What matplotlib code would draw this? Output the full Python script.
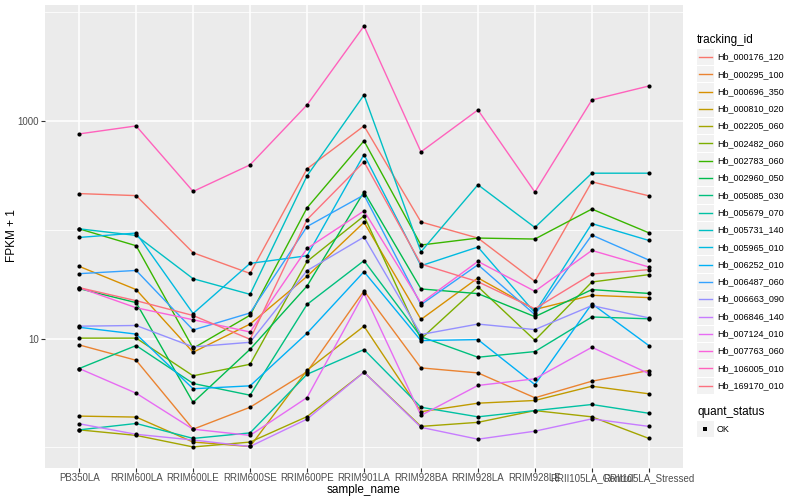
import numpy as np
import matplotlib
matplotlib.use('Agg')
import matplotlib.pyplot as plt
from matplotlib.patches import Rectangle
from matplotlib.lines import Line2D

plt.rcParams['font.family'] = ['Liberation Sans', 'DejaVu Sans']

samples = ['PB350LA', 'RRIM600LA', 'RRIM600LE', 'RRIM600SE', 'RRIM600PE',
           'RRIM901LA', 'RRIM928BA', 'RRIM928LA', 'RRIM928LE',
           'RRII105LA_Control', 'RRII105LA_Stressed']

# FPKM + 1, one list per gene, in sample order
hb_000176_120 = [215, 206, 61.5, 39.7, 363, 900, 118, 83.9, 33.6, 276, 205]
hb_000295_100 = [8.75, 6.32, 1.47, 2.34, 4.95, 27.4, 5.38, 4.84, 2.86, 4.06, 5.09]
hb_000696_350 = [46.1, 28.2, 7.49, 13.6, 37.3, 117, 15.0, 36.1, 18.5, 25.0, 23.8]
hb_000810_020 = [1.94, 1.90, 1.12, 1.02, 5.12, 13.0, 2.13, 2.55, 2.70, 3.65, 3.11]
hb_002205_060 = [1.45, 1.29, 1.01, 1.12, 1.92, 4.91, 1.56, 1.70, 2.18, 1.91, 1.21]
hb_002482_060 = [10.1, 10.1, 4.55, 5.81, 51.2, 134, 9.94, 30.0, 9.65, 33.1, 38.7]
hb_002783_060 = [102, 71.3, 8.15, 16.4, 159, 656, 72.4, 83.9, 82.2, 155, 93.8]
hb_002960_050 = [28.8, 21.4, 2.59, 7.98, 30.4, 223, 28.6, 25.9, 15.9, 28.2, 26.0]
hb_005085_030 = [5.31, 8.63, 3.87, 3.02, 20.6, 52.0, 10.4, 6.74, 7.60, 15.8, 15.2]
hb_005679_070 = [1.45, 1.66, 1.21, 1.36, 4.70, 7.93, 2.34, 1.91, 2.18, 2.48, 2.06]
hb_005731_140 = [102, 88.7, 35.5, 25.5, 313, 1733, 62.8, 259, 105, 331, 331]
hb_005965_010 = [85.0, 93.3, 17.0, 49.1, 57.7, 491, 46.7, 69.4, 17.3, 114, 79.8]
hb_006252_010 = [12.7, 11.0, 3.46, 3.68, 11.2, 41.2, 9.59, 9.79, 3.78, 20.9, 8.63]
hb_006487_060 = [39.5, 42.3, 12.0, 17.2, 107, 209, 20.5, 47.7, 16.6, 89.4, 52.7]
hb_006663_090 = [13.0, 13.2, 8.39, 9.25, 42.1, 85.7, 10.9, 13.6, 12.1, 20.1, 15.5]
hb_006846_140 = [1.65, 1.32, 1.17, 1.02, 1.82, 4.91, 1.53, 1.19, 1.41, 1.83, 1.56]
hb_007124_010 = [5.31, 3.15, 1.47, 1.29, 2.87, 26.0, 1.97, 3.71, 4.27, 8.32, 4.77]
hb_007763_060 = [29.4, 19.2, 14.9, 11.5, 67.3, 149, 21.2, 51.2, 27.2, 64.6, 45.5]
hb_106005_010 = [760, 900, 225, 395, 1403, 7447, 520, 1262, 222, 1559, 2094]
hb_169170_010 = [29.4, 22.3, 16.3, 9.86, 124, 421, 48.4, 33.3, 18.8, 39.2, 43.0]

tracking_ids = ['Hb_000176_120', 'Hb_000295_100', 'Hb_000696_350', 'Hb_000810_020',
                'Hb_002205_060', 'Hb_002482_060', 'Hb_002783_060', 'Hb_002960_050',
                'Hb_005085_030', 'Hb_005679_070', 'Hb_005731_140', 'Hb_005965_010',
                'Hb_006252_010', 'Hb_006487_060', 'Hb_006663_090', 'Hb_006846_140',
                'Hb_007124_010', 'Hb_007763_060', 'Hb_106005_010', 'Hb_169170_010']

series = [hb_000176_120, hb_000295_100, hb_000696_350, hb_000810_020,
          hb_002205_060, hb_002482_060, hb_002783_060, hb_002960_050,
          hb_005085_030, hb_005679_070, hb_005731_140, hb_005965_010,
          hb_006252_010, hb_006487_060, hb_006663_090, hb_006846_140,
          hb_007124_010, hb_007763_060, hb_106005_010, hb_169170_010]

# ggplot default hue palette for 20 groups
colors = ['#F8766D', '#EA8331', '#D89000', '#C09B00', '#A3A500', '#7CAE00',
          '#39B600', '#00BB4E', '#00BF7D', '#00C1A3', '#00BFC4', '#00BAE0',
          '#00B0F6', '#35A2FF', '#9590FF', '#C77CFF', '#E76BF3', '#FA62DB',
          '#FF62BC', '#FC717F']

W, H = 800, 500
fig = plt.figure(figsize=(8, 5), dpi=100)
ax = fig.add_axes([45 / W, 32 / H, 638 / W, 463 / H])
ax.set_facecolor('#EBEBEB')
for s in ax.spines.values():
    s.set_visible(False)

x = np.arange(len(samples))
for vals, c in zip(series, colors):
    ax.plot(x, vals, color=c, lw=1.0, zorder=3)
for vals in series:
    ax.plot(x, vals, 'o', color='black', ms=3.0, mew=0, zorder=4)

ax.set_yscale('log')
allv = np.log10(np.concatenate([np.array(v, float) for v in series]))
lo, hi = allv.min(), allv.max()
pad = 0.05 * (hi - lo)
ax.set_ylim(10 ** (lo - pad), 10 ** (hi + pad))
ax.set_xlim(-0.6, len(samples) - 0.4)

ax.set_yticks([10, 1000])
ax.set_yticklabels(['10', '1000'])
ax.set_yticks([1, 100, 10000], minor=True)
ax.yaxis.set_minor_formatter(matplotlib.ticker.NullFormatter())
ax.set_xticks(x)
ax.set_xticklabels(samples)

ax.grid(True, which='major', color='white', lw=1.1, zorder=0)
ax.grid(True, which='minor', axis='y', color='white', lw=0.55, zorder=0)
ax.set_axisbelow(True)
ax.tick_params(which='major', length=2.7, width=0.8, color='#333333',
               labelsize=7, labelcolor='#4D4D4D', pad=1.5)
ax.tick_params(axis='x', pad=1)
ax.tick_params(which='minor', length=0)


# legend and axis titles, placed in figure pixels
def fx(px):
    return px / W


def fy(py):
    return 1 - py / H


fig.text(fx(364), fy(490), 'sample_name', fontsize=8.5, ha='center', va='center')
fig.text(fx(12), fy(236), 'FPKM + 1', fontsize=8.5, ha='center', va='center',
         rotation=90)

fig.text(fx(697), fy(40), 'tracking_id', fontsize=8.5, va='center', ha='left')
step = 17.3
for i, (name, c) in enumerate(zip(tracking_ids, colors)):
    yc = 57 + i * step
    fig.add_artist(Rectangle((fx(697), fy(yc + step / 2 - 0.5)), 16.5 / W, (step - 1) / H,
                             transform=fig.transFigure, facecolor='#F2F2F2',
                             edgecolor='none'))
    fig.add_artist(Line2D([fx(699), fx(712)], [fy(yc), fy(yc)], color=c, lw=1.0,
                          transform=fig.transFigure))
    fig.text(fx(717), fy(yc), name, fontsize=6.5, va='center', ha='left')

fig.text(fx(697), fy(412), 'quant_status', fontsize=8.5, va='center', ha='left')
fig.add_artist(Rectangle((fx(697), fy(429 + step / 2 - 0.5)), 16.5 / W, (step - 1) / H,
                         transform=fig.transFigure, facecolor='#F2F2F2',
                         edgecolor='none'))
fig.add_artist(Line2D([fx(705)], [fy(429)], marker='s', ms=2.6, mew=0, color='black',
                      transform=fig.transFigure))
fig.text(fx(717), fy(429), 'OK', fontsize=6.5, va='center', ha='left')

fig.savefig('out.png', dpi=100)
